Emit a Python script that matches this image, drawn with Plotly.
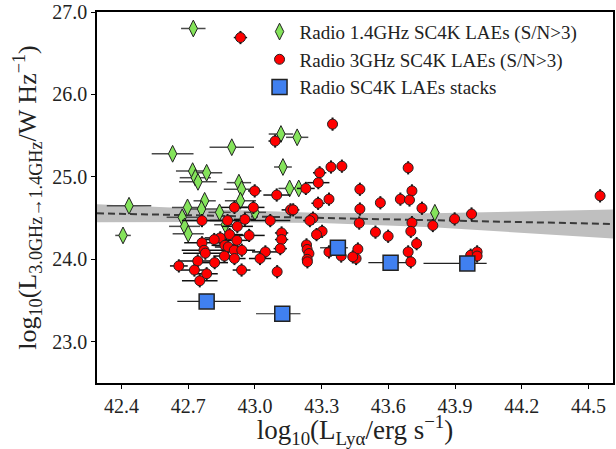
import plotly.graph_objects as go

# ---------------- data ----------------
# Radio 1.4GHz SC4K LAEs (S/N>3)
g_x = [42.723, 42.407, 42.434, 42.630, 42.896, 43.117, 43.190, 43.126, 42.720, 42.783,
       42.732, 42.744, 42.928, 42.940, 43.156, 43.197, 42.774, 42.935, 42.697, 42.760,
       42.841, 43.000, 42.673, 42.684, 42.700, 42.867, 43.809]
g_y = [26.80, 24.29, 24.65, 25.28, 25.36, 25.52, 25.48, 25.12, 25.07, 25.05,
       24.99, 24.94, 24.93, 24.85, 24.86, 24.86, 24.71, 24.71, 24.63, 24.61,
       24.57, 24.57, 24.51, 24.40, 24.31, 24.42, 24.565]
g_xerr = [0.055, 0.035, 0.10, 0.094, 0.10, 0.055, 0.05, 0.04, 0.075, 0.07,
          0.07, 0.085, 0.055, 0.08, 0.05, 0.05, 0.05, 0.07, 0.07, 0.07,
          0.05, 0.05, 0.07, 0.07, 0.07, 0.05, 0.02]

# Radio 3GHz SC4K LAEs (S/N>3)
r_x = [42.935, 43.349, 43.091, 43.342, 43.391, 43.291, 43.285, 43.229, 42.999, 43.098,
       43.333, 43.284, 42.908, 42.993, 43.160, 43.172, 42.762, 42.877, 42.955, 43.069,
       43.261, 43.247, 42.921, 43.472, 43.564, 43.689, 43.706, 43.654, 43.695, 43.751,
       43.472, 43.469, 43.706, 43.800, 43.898, 43.974, 44.552, 43.542, 43.599, 43.701,
       43.727, 43.463, 43.689, 43.701, 43.970, 43.999, 43.999, 43.455, 43.440, 43.388,
       43.302, 43.277, 43.120, 43.120, 43.114, 43.100, 43.232, 43.235, 43.243, 43.235,
       43.236, 43.333, 42.974, 42.886, 42.844, 42.817, 42.762, 42.771, 42.777, 42.865,
       42.880, 42.919, 42.907, 42.941, 42.863, 42.908, 43.047, 43.023, 42.940, 42.819,
       42.743, 42.658, 42.728, 42.783, 42.752]
r_y = [26.69, 25.64, 25.435, 25.12, 25.13, 25.05, 24.93, 24.86, 24.83, 24.78,
       24.73, 24.68, 24.63, 24.63, 24.60, 24.60, 24.47, 24.47, 24.485, 24.47,
       24.50, 24.47, 24.40, 24.85, 24.686, 25.11, 24.83, 24.73, 24.72, 24.62,
       24.61, 24.44, 24.445, 24.41, 24.49, 24.55, 24.77, 24.33, 24.28, 24.34,
       24.19, 24.125, 24.09, 23.97, 24.05, 24.09, 24.04, 24.01, 24.03, 24.04,
       24.34, 24.30, 24.32, 24.24, 24.13, 23.85, 24.175, 24.12, 24.07, 24.00,
       23.97, 24.09, 24.29, 24.30, 24.26, 24.24, 24.20, 24.11, 24.075, 24.17,
       24.15, 24.23, 24.11, 24.11, 24.04, 24.01, 24.09, 24.01, 23.87, 23.96,
       23.98, 23.92, 23.87, 23.825, 23.74]
r_xerr = [0.03, 0.01, 0.03, 0.02, 0.01, 0.03, 0.05, 0.04, 0.03, 0.06,
          0.01, 0.03, 0.06, 0.05, 0.04, 0.02, 0.09, 0.08, 0.05, 0.09,
          0.02, 0.03, 0.07, 0.01, 0.01, 0.01, 0.01, 0.01, 0.01, 0.01,
          0.01, 0.02, 0.01, 0.01, 0.01, 0.01, 0.01, 0.01, 0.01, 0.01,
          0.01, 0.01, 0.01, 0.01, 0.01, 0.01, 0.01, 0.01, 0.01, 0.01,
          0.02, 0.02, 0.03, 0.03, 0.03, 0.02, 0.01, 0.01, 0.01, 0.01,
          0.01, 0.02, 0.07, 0.06, 0.07, 0.06, 0.08, 0.10, 0.10, 0.06,
          0.06, 0.05, 0.06, 0.06, 0.05, 0.05, 0.06, 0.05, 0.04, 0.06,
          0.08, 0.04, 0.06, 0.05, 0.08]
r_yerr = 0.08

# Radio SC4K LAEs stacks
s_x = [42.783, 43.123, 43.373, 43.610, 43.955]
s_y = [23.49, 23.34, 24.14, 23.96, 23.95]
s_xerr_lo = [0.132, 0.118, 0.080, 0.100, 0.197]
s_xerr_hi = [0.154, 0.082, 0.045, 0.070, 0.087]

# best fit line and its uncertainty band
fit_x = [42.29, 44.61]
fit_y = [24.558, 24.429]
band_x = [42.29, 42.80, 43.30, 43.80, 44.20, 44.61]
band_hi = [24.667, 24.608, 24.562, 24.559, 24.579, 24.604]
band_lo = [24.449, 24.452, 24.442, 24.389, 24.325, 24.254]

x_ticks = [42.4, 42.7, 43.0, 43.3, 43.6, 43.9, 44.2, 44.5]
y_ticks = [23.0, 24.0, 25.0, 26.0, 27.0]

# ---------------- figure ----------------
FONT = "'Liberation Serif', 'DejaVu Serif', serif"
fig = go.Figure()

fig.add_trace(go.Scatter(
    x=band_x + band_x[::-1], y=band_hi + band_lo[::-1],
    fill="toself", fillcolor="#bfbfbf", line=dict(width=0),
    mode="lines", hoverinfo="skip", showlegend=False))

fig.add_trace(go.Scatter(
    x=fit_x, y=fit_y, mode="lines",
    line=dict(color="#3a3a3a", width=2, dash="7px,4px"),
    showlegend=False))

fig.add_trace(go.Scatter(
    x=g_x, y=g_y, mode="markers", name="Radio 1.4GHz SC4K LAEs (S/N>3)",
    legendgroup="a",
    marker=dict(symbol="diamond-tall", size=12, color="#84e35a",
                line=dict(color="#222222", width=1)),
    error_x=dict(type="data", array=g_xerr, color="#4a4a4a", thickness=1.5, width=0)))

fig.add_trace(go.Scatter(
    x=r_x, y=r_y, mode="markers", name="Radio 3GHz SC4K LAEs (S/N>3)",
    legendgroup="b",
    marker=dict(symbol="circle", size=10, color="#ff0000",
                line=dict(color="#222222", width=1)),
    error_x=dict(type="data", array=r_xerr, color="#111111", thickness=1.5, width=0),
    error_y=dict(type="constant", value=r_yerr, color="#111111", thickness=2, width=0)))

fig.add_trace(go.Scatter(
    x=s_x, y=s_y, mode="markers", name="Radio SC4K LAEs stacks",
    legendgroup="c",
    marker=dict(symbol="square", size=15, color="#4080f0",
                line=dict(color="#222222", width=1.5)),
    error_x=dict(type="data", symmetric=False, array=s_xerr_hi, arrayminus=s_xerr_lo,
                 color="#222222", thickness=1.2, width=0)))

axis_common = dict(
    showline=True, linecolor="black", linewidth=1.5, mirror=True,
    ticks="outside", ticklen=4, tickwidth=1.2, tickcolor="black",
    showgrid=False, zeroline=False,
    tickfont=dict(family=FONT, size=20, color="#222"),
)

fig.update_xaxes(
    range=[42.29, 44.61], tickvals=x_ticks, ticktext=[f"{v:.1f}" for v in x_ticks],
    title=dict(text="log<sub>10</sub>(L<sub>Lyα</sub>/erg s<sup>−1</sup>)",
               font=dict(family=FONT, size=27, color="#222"), standoff=1),
    **axis_common)
fig.update_yaxes(
    range=[22.5, 27.0], tickvals=y_ticks, ticktext=[f"{v:.1f}" for v in y_ticks],
    title=dict(text="log<sub>10</sub>(L<sub>3.0GHz→1.4GHz</sub>/W Hz<sup>−1</sup>)",
               font=dict(family=FONT, size=26, color="#222"), standoff=8),
    **axis_common)

fig.update_layout(
    width=616, height=449,
    margin=dict(l=97, r=1, t=12, b=66),
    paper_bgcolor="white", plot_bgcolor="white",
    showlegend=True,
    legend=dict(x=0.315, y=0.998, xanchor="left", yanchor="top",
                bgcolor="rgba(0,0,0,0)", borderwidth=0,
                font=dict(family=FONT, size=19, color="#222"),
                traceorder="grouped", tracegroupgap=0),
)

fig.write_html("out.html")
